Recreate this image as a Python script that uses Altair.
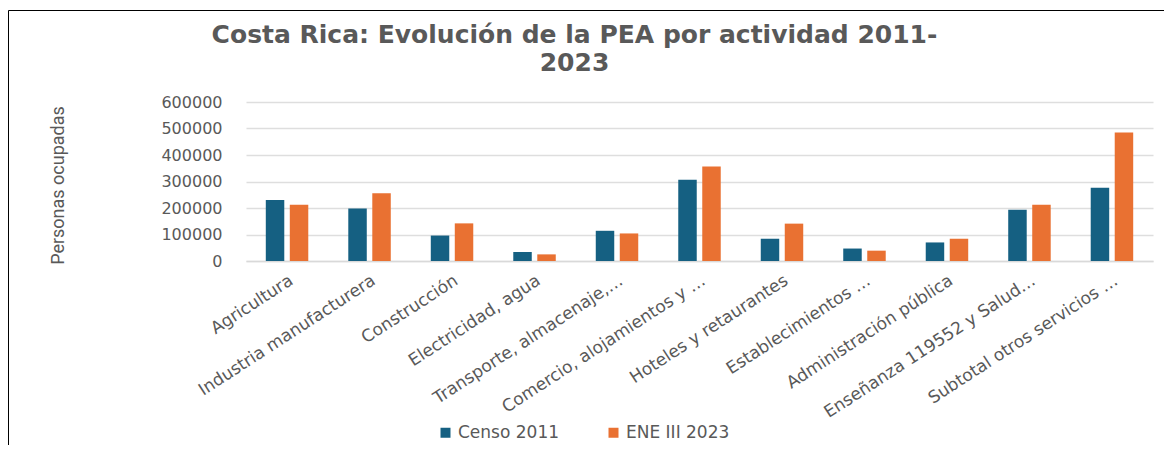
import altair as alt
import pandas as pd

categories = [
    "Agricultura",
    "Industria manufacturera",
    "Construcción",
    "Electricidad, agua",
    "Transporte, almacenaje,…",
    "Comercio, alojamientos y …",
    "Hoteles y retaurantes",
    "Establecimientos …",
    "Administración pública",
    "Enseñanza 119552 y Salud…",
    "Subtotal otros servicios …",
]
series = ["Censo 2011", "ENE III 2023"]
censo_2011 = [230000, 198000, 96000, 34000, 114000, 307000, 84000, 47000, 70000, 193000, 276000]
ene_2023 = [212000, 256000, 142000, 25000, 104000, 357000, 141000, 39000, 84000, 212000, 485000]
y_ticks = [0, 100000, 200000, 300000, 400000, 500000, 600000]

rows = []
for c, a, b in zip(categories, censo_2011, ene_2023):
    rows.append({"cat": c, "serie": series[0], "valor": a})
    rows.append({"cat": c, "serie": series[1], "valor": b})
df = pd.DataFrame(rows)

GREY = "#595959"

bars = alt.Chart(df).mark_bar().encode(
    x=alt.X(
        "cat:N",
        sort=categories,
        title=None,
        scale=alt.Scale(paddingInner=0.485, paddingOuter=0.24),
        axis=alt.Axis(
            labelAngle=-33,
            labelAlign="right",
            labelBaseline="top",
            labelPadding=11,
            labelFont="DejaVu Sans",
            labelFontSize=17,
            labelColor=GREY,
            labelLimit=400,
            ticks=False,
            domainColor="#d9d9d9",
            domainWidth=1.5,
            grid=False,
        ),
    ),
    xOffset=alt.XOffset("serie:N", sort=series, scale=alt.Scale(paddingInner=0.23)),
    y=alt.Y(
        "valor:Q",
        scale=alt.Scale(domain=[0, 600000]),
        axis=alt.Axis(
            values=y_ticks,
            format="d",
            title="Personas ocupadas",
            titleFont="Roboto",
            titleFontWeight="normal",
            titleFontSize=18,
            titleColor=GREY,
            titleAngle=270,
            titleAlign="center",
            titleBaseline="middle",
            titleX=-188,
            titleY=83,
            labelFont="DejaVu Sans",
            labelFontSize=16,
            labelColor=GREY,
            labelPadding=24,
            ticks=False,
            domain=False,
            gridColor="#dedede",
            gridWidth=1.5,
        ),
    ),
    color=alt.Color(
        "serie:N",
        sort=series,
        scale=alt.Scale(domain=series, range=["#156082", "#E97132"]),
        legend=alt.Legend(
            title=None,
            orient="none",
            direction="horizontal",
            legendX=191,
            legendY=322,
            symbolType="square",
            symbolSize=100,
            symbolStrokeWidth=0,
            labelFont="DejaVu Sans",
            labelFontSize=17,
            labelColor=GREY,
            labelOffset=4,
            columnPadding=45,
            padding=0,
        ),
    ),
)

frame = alt.Chart(alt.Data(values=[{"k": 1}])).mark_rect(
    filled=False, stroke="black", strokeWidth=1
).encode(
    x=alt.value(-237.5),
    x2=alt.value(1200),
    y=alt.value(-91.5),
    y2=alt.value(600),
)

chart = alt.layer(frame, bars).properties(
    width=907,
    height=159,
    autosize=alt.AutoSizeParams(type="none"),
    padding={"left": 238, "top": 94, "right": 11, "bottom": 184},
    title=alt.TitleParams(
        text=["Costa Rica: Evolución de la PEA por actividad 2011-", "2023"],
        anchor="middle",
        font="DejaVu Sans",
        fontSize=25,
        fontWeight="bold",
        color=GREY,
        lineHeight=28,
        dx=-125,
        offset=-66,
    ),
).configure_view(stroke=None)

chart.save("out.html", embed_options={"renderer": "svg", "actions": False})
